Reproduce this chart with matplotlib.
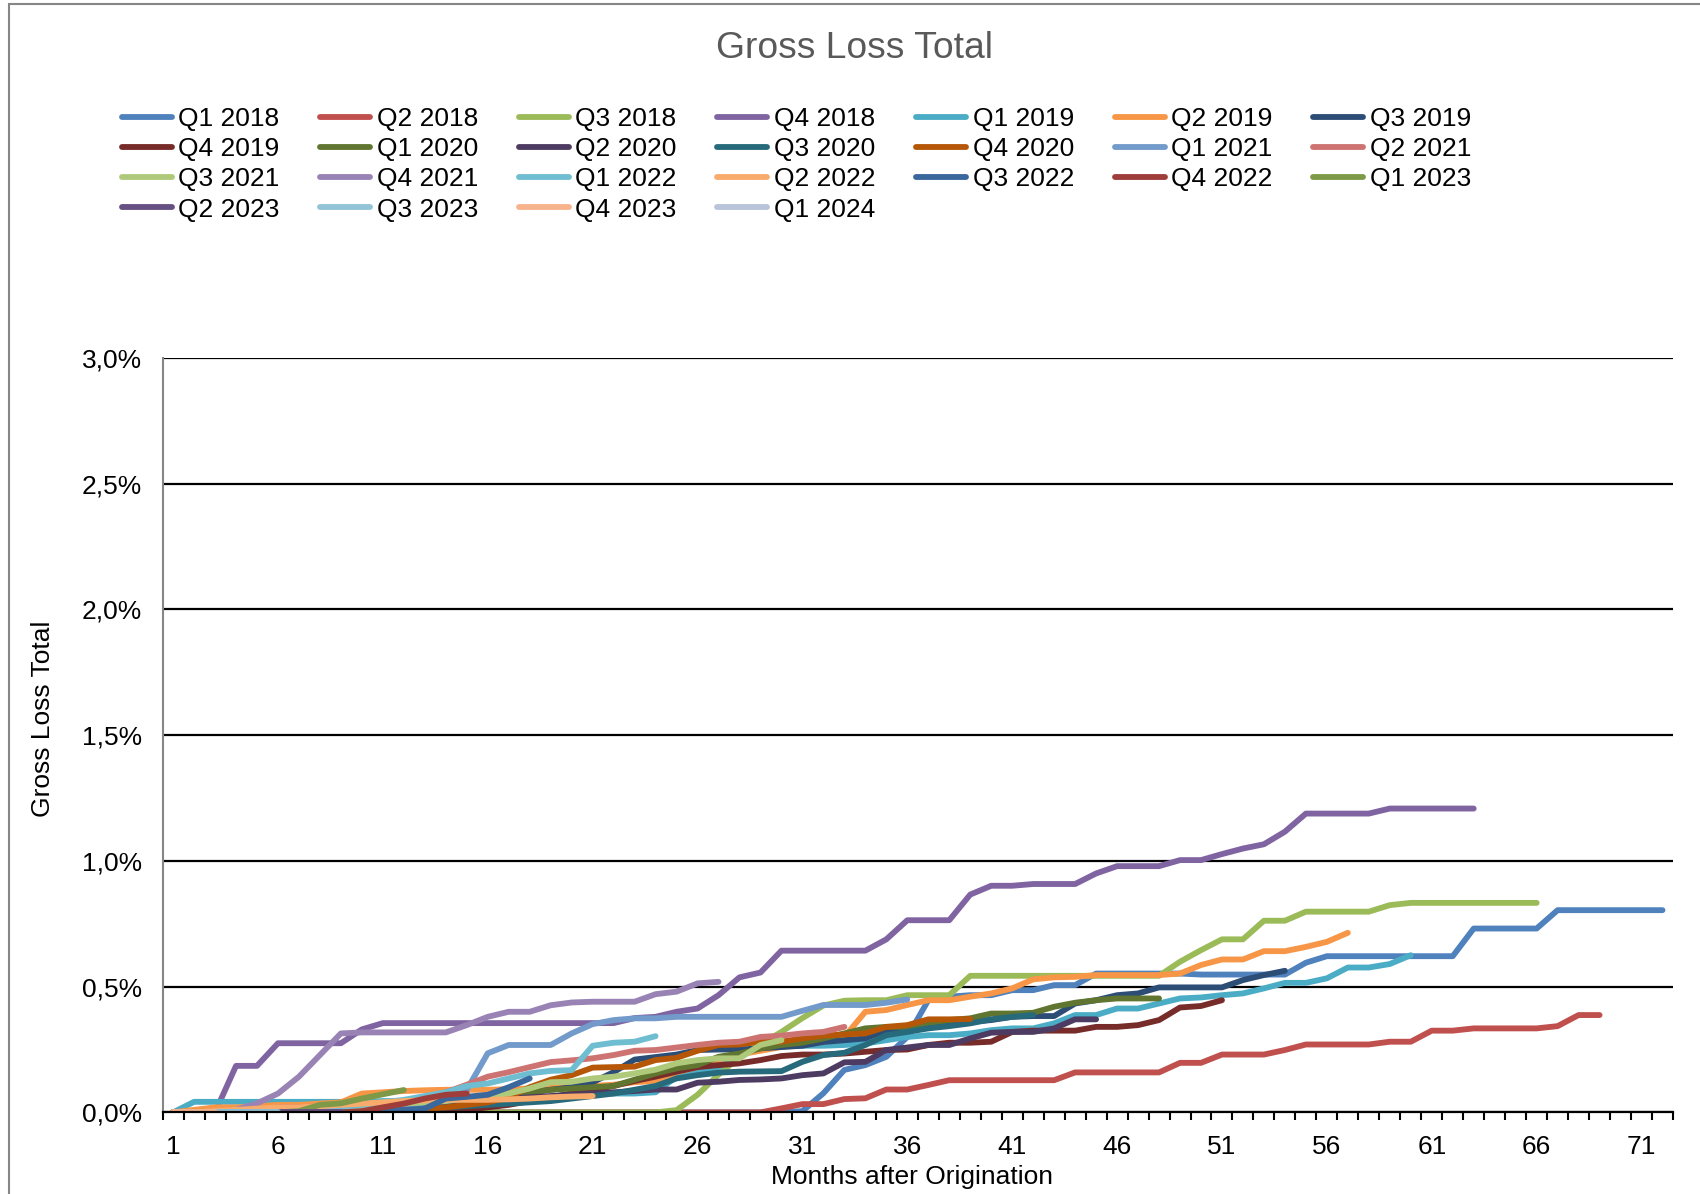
import numpy as np
import matplotlib
matplotlib.use('Agg')
import matplotlib.pyplot as plt
from matplotlib.ticker import FuncFormatter
from matplotlib.patches import Rectangle

plt.rcParams['font.family'] = ['Liberation Sans', 'DejaVu Sans']

# cumulative gross loss in % of originated volume, one list per vintage (month 1, 2, ...)
q1_2018 = [0.0]*30 + [0.005, 0.076, 0.169, 0.188, 0.221, 0.30, 0.446, 0.46, 0.466, 0.466, 0.486, 0.486,
                      0.506, 0.506, 0.552, 0.552, 0.552, 0.552, 0.552, 0.548, 0.548, 0.548, 0.548, 0.548,
                      0.595, 0.621] + [0.621]*6 + [0.731]*4 + [0.804]*6
q2_2018 = [0.0]*29 + [0.016, 0.033, 0.033, 0.053, 0.056, 0.091, 0.091, 0.109, 0.128] + [0.128]*5 + [0.159]*5 + \
          [0.197, 0.197, 0.23, 0.23, 0.23, 0.248, 0.27, 0.27, 0.27, 0.27, 0.281, 0.281, 0.325, 0.325,
           0.334, 0.334, 0.334, 0.334, 0.343, 0.387, 0.387]
q3_2018 = [0.0]*24 + [0.009, 0.07, 0.15, 0.22, 0.27, 0.32, 0.375, 0.425, 0.444, 0.446, 0.446, 0.466, 0.466,
                      0.466] + [0.543]*10 + [0.599, 0.645, 0.688, 0.688, 0.762, 0.762] + [0.798]*4 + [0.824] + [0.833]*7
q4_2018 = [0.0, 0.0, 0.0, 0.185, 0.185, 0.275, 0.275, 0.275, 0.275, 0.33] + [0.355]*12 + \
          [0.375, 0.38, 0.40, 0.413, 0.466, 0.537, 0.556] + [0.643]*5 + [0.688, 0.764, 0.764, 0.764, 0.866,
           0.901, 0.901, 0.908, 0.908, 0.908, 0.95, 0.979, 0.979, 0.979, 1.003, 1.003, 1.027, 1.049, 1.066,
           1.116] + [1.188]*4 + [1.208]*5
q1_2019 = [0.0] + [0.042]*9 + [0.045]*5 + [0.06]*4 + [0.075]*4 + [0.08] + \
          [0.142, 0.162, 0.18, 0.228, 0.26, 0.262, 0.265, 0.265, 0.268, 0.274, 0.287, 0.30, 0.307, 0.307,
           0.314, 0.327, 0.334, 0.334, 0.354, 0.387, 0.387, 0.413, 0.413, 0.433, 0.453, 0.457, 0.466, 0.473,
           0.493, 0.515, 0.515, 0.533, 0.576, 0.576, 0.59, 0.625]
q2_2019 = [0.0, 0.01, 0.02, 0.02, 0.025, 0.03, 0.03, 0.035, 0.04, 0.075, 0.08, 0.085, 0.088, 0.09, 0.09,
           0.09, 0.092, 0.095, 0.1, 0.1, 0.105, 0.11, 0.12, 0.125, 0.16, 0.18, 0.21, 0.23, 0.245, 0.26, 0.27,
           0.28, 0.30, 0.40, 0.407, 0.427, 0.446, 0.446, 0.46, 0.473, 0.493, 0.529, 0.537, 0.539, 0.546,
           0.546, 0.546, 0.546, 0.552, 0.586, 0.608, 0.608, 0.641, 0.641, 0.658, 0.678, 0.714]
q3_2019 = [0.0]*9 + [0.005, 0.01, 0.015, 0.02, 0.025, 0.03, 0.04, 0.06, 0.08, 0.09, 0.1, 0.12, 0.16, 0.21,
                     0.22, 0.23, 0.248, 0.25, 0.25, 0.255, 0.26, 0.265, 0.28, 0.287, 0.294, 0.327, 0.327,
                     0.347, 0.354, 0.36, 0.367, 0.38, 0.383, 0.383, 0.433, 0.446, 0.466, 0.473, 0.497, 0.497,
                     0.497, 0.497, 0.526, 0.546, 0.563]
q4_2019 = [0.0]*13 + [0.005, 0.01, 0.02, 0.03, 0.045, 0.06, 0.075, 0.09, 0.105, 0.125, 0.142, 0.162, 0.18,
                      0.188, 0.195, 0.208, 0.224, 0.23, 0.23, 0.234, 0.241, 0.248, 0.25, 0.268, 0.277, 0.277,
                      0.281, 0.32, 0.325, 0.325, 0.325, 0.34, 0.34, 0.347, 0.367, 0.417, 0.423, 0.446]
q1_2020 = [0.0]*7 + [0.005, 0.01, 0.015, 0.02, 0.025, 0.03, 0.035, 0.04, 0.05, 0.065, 0.08, 0.09, 0.095, 0.1,
                     0.105, 0.13, 0.155, 0.175, 0.188, 0.221, 0.234, 0.254, 0.268, 0.277, 0.294, 0.314, 0.334,
                     0.34, 0.34, 0.356, 0.367, 0.374, 0.393, 0.393, 0.396, 0.42, 0.436, 0.446, 0.453, 0.453,
                     0.453]
q2_2020 = [0.0]*8 + [0.005, 0.01, 0.015, 0.02, 0.03, 0.04, 0.045, 0.05, 0.055, 0.06, 0.065, 0.07, 0.075,
                     0.08, 0.085, 0.091, 0.091, 0.118, 0.122, 0.129, 0.131, 0.135, 0.148, 0.155, 0.199, 0.201,
                     0.248, 0.258, 0.268, 0.268, 0.294, 0.317, 0.32, 0.32, 0.334, 0.37, 0.37]
q3_2020 = [0.0]*10 + [0.005, 0.01, 0.015, 0.02, 0.025, 0.03, 0.035, 0.04, 0.045, 0.055, 0.065, 0.075, 0.09,
                      0.105, 0.135, 0.148, 0.158, 0.162, 0.163, 0.164, 0.201, 0.228, 0.237, 0.268, 0.307, 0.32,
                      0.334, 0.343, 0.354, 0.37, 0.38, 0.387]
q4_2020 = [0.0]*10 + [0.005, 0.01, 0.015, 0.02, 0.03, 0.04, 0.06, 0.1, 0.13, 0.148, 0.178, 0.18, 0.182,
                      0.208, 0.217, 0.245, 0.268, 0.27, 0.281, 0.281, 0.294, 0.305, 0.31, 0.314, 0.34, 0.347,
                      0.37, 0.37, 0.371]
q1_2021 = [0.0]*10 + [0.01, 0.02, 0.04, 0.06, 0.09, 0.235, 0.268, 0.268, 0.268, 0.314, 0.351, 0.367, 0.374,
                      0.374] + [0.38]*6 + [0.404, 0.427, 0.427, 0.427, 0.436, 0.449]
q2_2021 = [0.0]*4 + [0.01, 0.02, 0.02, 0.025, 0.025, 0.03, 0.03, 0.04, 0.05, 0.08, 0.11, 0.142, 0.16, 0.18,
                     0.2, 0.207, 0.215, 0.228, 0.245, 0.248, 0.258, 0.268, 0.277, 0.281, 0.30, 0.305, 0.314,
                     0.32, 0.34]
q3_2021 = [0.0]*5 + [0.005, 0.01, 0.015, 0.02, 0.025, 0.03, 0.035, 0.04, 0.045, 0.055, 0.065, 0.075, 0.095,
                     0.12, 0.122, 0.135, 0.142, 0.155, 0.17, 0.195, 0.208, 0.215, 0.215, 0.268, 0.287]
q4_2021 = [0.0, 0.0, 0.0, 0.01, 0.036, 0.075, 0.142, 0.228, 0.314] + [0.318]*5 + \
          [0.347, 0.38, 0.40, 0.40, 0.426, 0.437, 0.44, 0.44, 0.44, 0.47, 0.48, 0.513, 0.519]
q1_2022 = [0.0]*5 + [0.005, 0.01, 0.015, 0.02, 0.03, 0.04, 0.05, 0.065, 0.08, 0.105, 0.115, 0.135, 0.155,
                     0.165, 0.168, 0.265, 0.277, 0.281, 0.303]
q2_2022 = [0.0, 0.0, 0.005, 0.01, 0.015, 0.02, 0.02, 0.025, 0.03, 0.035, 0.04, 0.045, 0.048, 0.05, 0.05,
           0.05, 0.052, 0.055, 0.06, 0.063, 0.065]
q3_2022 = [0.0]*10 + [0.005, 0.01, 0.015, 0.055, 0.062, 0.07, 0.1, 0.135]
q4_2022 = [0.0]*9 + [0.005, 0.02, 0.035, 0.055, 0.07, 0.075]
q1_2023 = [0.0]*6 + [0.005, 0.03, 0.036, 0.055, 0.072, 0.089]
q2_2023 = [0.0]*9
q3_2023 = [0.0]*6
q4_2023 = [0.0]*3
q1_2024 = [0.0]

labels = ['Q1 2018', 'Q2 2018', 'Q3 2018', 'Q4 2018', 'Q1 2019', 'Q2 2019', 'Q3 2019',
          'Q4 2019', 'Q1 2020', 'Q2 2020', 'Q3 2020', 'Q4 2020', 'Q1 2021', 'Q2 2021',
          'Q3 2021', 'Q4 2021', 'Q1 2022', 'Q2 2022', 'Q3 2022', 'Q4 2022', 'Q1 2023',
          'Q2 2023', 'Q3 2023', 'Q4 2023', 'Q1 2024']
series = [q1_2018, q2_2018, q3_2018, q4_2018, q1_2019, q2_2019, q3_2019, q4_2019, q1_2020,
          q2_2020, q3_2020, q4_2020, q1_2021, q2_2021, q3_2021, q4_2021, q1_2022, q2_2022,
          q3_2022, q4_2022, q1_2023, q2_2023, q3_2023, q4_2023, q1_2024]
colors = ['#4F81BD', '#C0504D', '#9BBB59', '#8064A2', '#4BACC6', '#F79646', '#2C4D75',
          '#772C2A', '#5F7530', '#4D3B62', '#276A7C', '#B65708', '#729ACA', '#CD7371',
          '#AFC97A', '#9983B5', '#6FBDD1', '#F9AB6B', '#3A679C', '#9E3D3A', '#7E9A48',
          '#664F82', '#92C3D6', '#F7B48C', '#B9C4DA']

W, H = 1700, 1194
fig = plt.figure(figsize=(W/100, H/100), dpi=100)
ax = fig.add_axes([162.6/W, 1-1112.4/H, (1673-162.6)/W, (1112.4-357.8)/H])

handles = []
for vals, lab, col in zip(series, labels, colors):
    m = np.arange(1, len(vals)+1)
    ln, = ax.plot(m, vals, color=col, lw=4.2, label=lab,
                  solid_capstyle='round', solid_joinstyle='round')
    handles.append(ln)

ax.set_xlim(0.5, 72.5)
ax.set_ylim(0, 3.0)
ax.set_yticks(np.arange(0, 3.01, 0.5))
ax.yaxis.set_major_formatter(FuncFormatter(lambda v, p: ('%.1f%%' % v).replace('.', ',')))
ax.set_xticks(np.arange(1, 72, 5))
ax.set_xticks(np.arange(0.5, 73, 1), minor=True)
ax.tick_params(axis='x', which='major', length=0, labelsize=19, pad=16.5)
ax.tick_params(axis='x', which='minor', length=6, width=1.5, direction='out', color='black')
ax.tick_params(axis='y', length=0, labelsize=19, pad=15)

ax.yaxis.grid(True, color='black', lw=1.6)
ax.set_axisbelow(True)
for s in ['top', 'right']:
    ax.spines[s].set_visible(False)
ax.spines['left'].set_color('#868686')
ax.spines['left'].set_linewidth(1.5)
ax.spines['bottom'].set_color('black')
ax.spines['bottom'].set_linewidth(1.6)

# legend rows are filled left to right like the spreadsheet, so reorder for column-major fill
order = []
for c in range(7):
    order += [i for i in range(c, len(labels), 7)]
fig.legend([handles[i] for i in order], [labels[i] for i in order],
           loc='upper left', bbox_to_anchor=(121.5/W, 1-107/H), bbox_transform=fig.transFigure,
           ncol=7, frameon=False, fontsize=19, handlelength=1.9, handletextpad=0.25,
           columnspacing=1.535, labelspacing=0.235, borderpad=0, borderaxespad=0)

fig.text(855/W, 1-49/H, 'Gross Loss Total', ha='center', va='center', fontsize=26.8, color='#595959')
fig.text(43/W, 1-719/H, 'Gross Loss Total', ha='center', va='center', rotation=90, fontsize=19)
fig.text(912/W, 1-1177/H, 'Months after Origination', ha='center', va='center', fontsize=19)

fig.patches.append(Rectangle((9/W, -0.01), 1.0, 1.01-4/H, transform=fig.transFigure,
                             fill=False, edgecolor='#868686', lw=1.5))

plt.savefig('out.png', dpi=100)
